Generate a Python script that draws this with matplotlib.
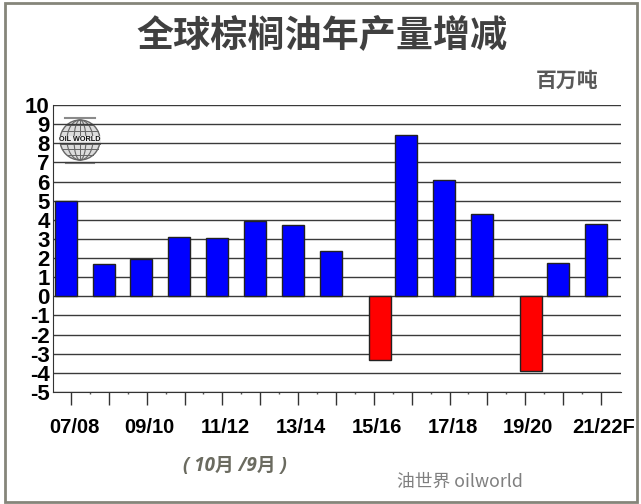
import numpy as np
import matplotlib
matplotlib.use("Agg")
import matplotlib.pyplot as plt
from matplotlib.patches import Circle, Ellipse, Rectangle
from matplotlib.transforms import ScaledTranslation

plt.rcParams['font.family'] = ['Noto Sans CJK SC', 'DejaVu Sans']

# marketing years, labels only on every second one
years = ["07/08", "08/09", "09/10", "10/11", "11/12", "12/13", "13/14", "14/15",
         "15/16", "16/17", "17/18", "18/19", "19/20", "20/21", "21/22F"]
change = [4.97, 1.68, 1.95, 3.1, 3.05, 3.95, 3.72, 2.35,
          -3.35, 8.45, 6.07, 4.32, -3.88, 1.72, 3.78]
y_ticks = list(range(-5, 11))

W, H = 641, 504
fig = plt.figure(figsize=(W / 100, H / 100), dpi=100)
fig.patch.set_facecolor("white")

# grey outer frame
fig.add_artist(Rectangle((4.5 / W, 1 - 501.5 / H), 632 / W, 499 / H, transform=fig.transFigure,
                         fill=False, edgecolor="#85857a", linewidth=2))

# logo goes under the grid lines, drawn small in figure pixels
logo = fig.add_axes([54 / W, 1 - 168 / H, 52 / W, 56 / H], zorder=1)
logo.set_xlim(-26, 26)
logo.set_ylim(-28, 28)
logo.axis("off")
logo.add_patch(Circle((0, 0), 20, facecolor="#dcdcdc", edgecolor="#666666", linewidth=1))
for w in (12, 26):
    logo.add_patch(Ellipse((0, 0), w, 40, fill=False, edgecolor="#666666", linewidth=0.8))
for h in (-15, -9, -4, 4, 9, 15):
    half = np.sqrt(20 ** 2 - h ** 2)
    logo.plot([-half, half], [h, h], color="#666666", linewidth=0.7)
logo.plot([0, 0], [-20, 20], color="#666666", linewidth=0.7)
logo.plot([-15, 15], [22, 22], color="#8a8a8a", linewidth=1.5)
logo.plot([-14, 14], [-23, -23], color="#8a8a8a", linewidth=1.5)
logo.text(0, 0, "OIL WORLD", ha="center", va="center", fontsize=5.2, fontweight="bold",
          fontfamily="Liberation Sans", color="#111111",
          bbox=dict(facecolor="#eeeeee", edgecolor="none", pad=0.4))

ax = fig.add_axes([53 / W, 1 - 392 / H, (621 - 53) / W, (392 - 105) / H], zorder=2)
ax.patch.set_alpha(0)
ax.set_xlim(-0.475, 14.53)
ax.set_ylim(-5, 10)

# bars sit left of their tick, the negative ones right of it
x = np.arange(len(years))
offset = np.where(np.array(change) < 0, 0.16, -0.14)
colors = ["red" if v < 0 else "#0000ff" for v in change]
ax.bar(x + offset, change, width=0.58, color=colors, edgecolor="#222222", linewidth=1, zorder=3)

ax.set_yticks(y_ticks)
ax.set_yticklabels([str(v) for v in y_ticks], fontfamily="Liberation Sans", fontsize=16,
                   fontweight="bold", color="black")
ax.tick_params(axis="y", length=0, pad=2.5)
ax.grid(axis="y", color="#3a3a3a", linewidth=1, zorder=1)

ax.set_xticks(x)
ax.set_xticklabels([y if i % 2 == 0 else "" for i, y in enumerate(years)],
                   fontfamily="Liberation Sans", fontsize=14.5, fontweight="bold", color="black")
ax.set_xticks(x[:-1] + 0.5, minor=True)
ax.tick_params(axis="x", which="major", length=9.5, width=1, color="#333333", pad=9)
ax.tick_params(axis="x", which="minor", length=1.5, width=1, color="#555555")
# labels sit a little right of the ticks
shift = ScaledTranslation(3 / 100, 0, fig.dpi_scale_trans)
for lab in ax.get_xticklabels():
    lab.set_transform(lab.get_transform() + shift)

ax.spines["top"].set_visible(False)
ax.spines["right"].set_visible(False)
ax.spines["left"].set_color("#333333")
ax.spines["bottom"].set_color("#333333")

fig.text(322 / W, 1 - 36 / H, "全球棕榈油年产量增减", ha="center", va="center", fontsize=26.7,
         fontweight="bold", color="#404040")
fig.text(567 / W, 1 - 80 / H, "百万吨", ha="center", va="center", fontsize=15,
         fontweight="bold", color="#595959")
fig.text(235 / W, 1 - 466 / H, "( 10月 /9月 )", ha="center", va="center", fontsize=13.5,
         fontweight="bold", style="italic", color="#6b6b60",
         fontfamily=["Open Sans", "Noto Sans CJK SC"])
fig.text(459.5 / W, 1 - 482 / H, "油世界 oilworld", ha="center", va="center", fontsize=12.8,
         color="#7f7f7f")

fig.savefig("out.png", dpi=100)
